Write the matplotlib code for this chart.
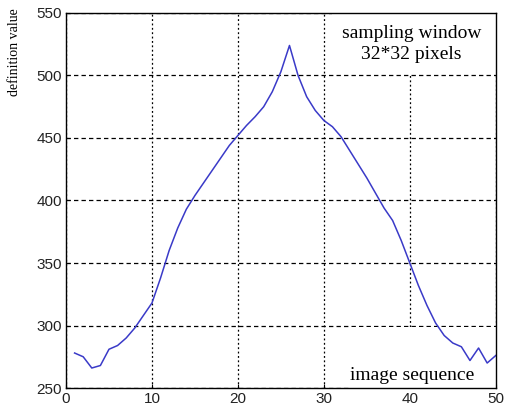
import matplotlib.pyplot as plt
from matplotlib.patches import Rectangle

# image index and measured definition value
frames = list(range(1, 51))
definition = [278, 275, 266, 268, 281, 284, 290, 298, 308, 318,
              338, 360, 378, 393, 404, 414, 424, 434, 444, 452,
              460, 467, 475, 487, 503, 524, 500, 483, 472, 464,
              459, 451, 440, 429, 418, 406, 394, 384, 368, 350,
              332, 316, 302, 292, 286, 283, 272, 282, 270, 276]

x_ticks = [0, 10, 20, 30, 40, 50]
y_ticks = [250, 300, 350, 400, 450, 500, 550]

fig = plt.figure(figsize=(5.05, 4.09), dpi=100)
ax = fig.add_axes([0.1307, 0.0513, 0.851, 0.917])

ax.plot(frames, definition, color="#3a3ac8", linewidth=1.1, zorder=3)

ax.set_xlim(0, 50)
ax.set_ylim(250, 550)
ax.set_xticks(x_ticks)
ax.set_yticks(y_ticks)
ax.tick_params(direction="in", length=3, labelsize=11, pad=3, labelcolor="#222222")
for lab in ax.get_xticklabels() + ax.get_yticklabels():
    lab.set_fontfamily("Liberation Sans")

# matlab style grid: stretched dots on horizontal lines
ax.xaxis.grid(True, color="black", linestyle=(0, (1.5, 2)), linewidth=0.9)
ax.yaxis.grid(True, color="black", linestyle=(0, (3.5, 2.5)), linewidth=0.9)

# white areas behind the two notes (hide part of the x=40 grid line)
ax.add_patch(Rectangle((31, 501), 19, 49, facecolor="white", edgecolor="none", zorder=2))
ax.add_patch(Rectangle((33, 250), 17, 49, facecolor="white", edgecolor="none", zorder=2))

ax.text(40.2, 525, "sampling window\n32*32 pixels", ha="center", va="center",
        fontsize=14, family="Liberation Serif", linespacing=1.35, zorder=4)
ax.text(40.3, 260, "image sequence", ha="center", va="center",
        fontsize=14, family="Liberation Serif", zorder=4)

ax.set_ylabel("definition value", fontsize=10, family="Liberation Serif")
ax.yaxis.set_label_coords(-0.105, 0.895)

for s in ax.spines.values():
    s.set_linewidth(1.0)
    s.set_zorder(5)

fig.savefig("out.png", dpi=100)
